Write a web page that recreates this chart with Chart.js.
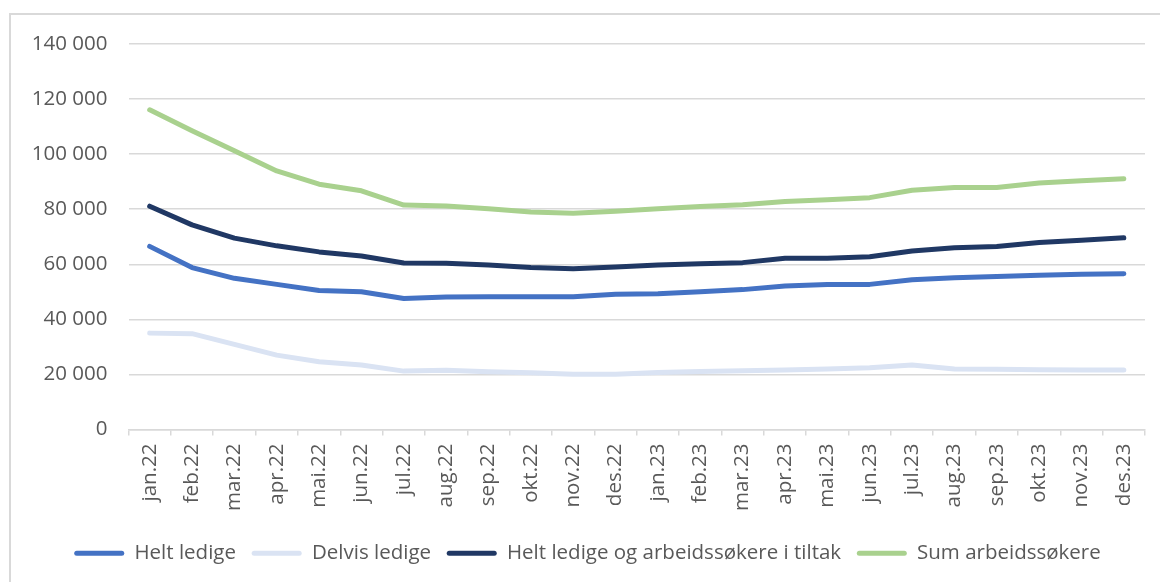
<!DOCTYPE html>
<html>
<head>
<meta charset="utf-8">
<script src="https://cdn.jsdelivr.net/npm/chart.js@4.4.1/dist/chart.umd.min.js"></script>
<style>
  html, body { margin: 0; padding: 0; background: #fff; overflow: hidden; }
  #wrap { position: relative; width: 1160px; height: 582px; }
  #frame { position: absolute; left: 9px; top: 13px; width: 2000px; height: 2000px;
           border-top: 2px solid #d9d9d9; border-left: 2px solid #d9d9d9; }
  canvas { position: absolute; left: 0; top: 0; }
</style>
</head>
<body>
<div id="wrap">
  <div id="frame"></div>
  <canvas id="myChart" width="1160" height="582"></canvas>
</div>
<script>
var months = ["jan.22", "feb.22", "mar.22", "apr.22", "mai.22", "jun.22", "jul.22", "aug.22",
  "sep.22", "okt.22", "nov.22", "des.22", "jan.23", "feb.23", "mar.23", "apr.23", "mai.23",
  "jun.23", "jul.23", "aug.23", "sep.23", "okt.23", "nov.23", "des.23"];

var heltLedige = [66500, 58800, 54900, 52700, 50500, 50000, 47600, 48100, 48200, 48200, 48200, 49100,
  49300, 50000, 50800, 52100, 52700, 52700, 54400, 55100, 55600, 56000, 56400, 56600];
var delvisLedige = [35000, 34800, 30900, 27000, 24600, 23400, 21200, 21500, 21000, 20600, 20100, 20100,
  20700, 21100, 21300, 21600, 22000, 22400, 23400, 22000, 21900, 21700, 21600, 21600];
var heltOgTiltak = [81100, 74300, 69500, 66700, 64500, 63000, 60500, 60400, 59700, 58800, 58400, 59000,
  59700, 60200, 60600, 62200, 62200, 62700, 64800, 66000, 66500, 67900, 68700, 69600];
var sumArbeidssokere = [116100, 108500, 101200, 93900, 89100, 86700, 81500, 81200, 80200, 79000, 78500, 79300,
  80200, 81000, 81600, 82800, 83400, 84200, 86900, 87900, 87900, 89500, 90300, 91100];

var seriesNames = ["Helt ledige", "Delvis ledige", "Helt ledige og arbeidssøkere i tiltak", "Sum arbeidssøkere"];
var seriesColors = ["#4472c4", "#dae3f3", "#203864", "#a9d18e"];

var textColor = "#595959";
var gridColor = "#d9d9d9";

Chart.defaults.font.family = "'Open Sans', sans-serif";
Chart.defaults.font.size = 20.5;
Chart.defaults.color = textColor;

function makeLine(i, values) {
  return {
    label: seriesNames[i],
    data: values,
    borderColor: seriesColors[i],
    backgroundColor: seriesColors[i],
    borderWidth: 5,
    borderCapStyle: "round",
    borderJoinStyle: "round",
    pointRadius: 0,
    tension: 0,
    fill: false
  };
}

function spaced(v) {
  return String(v).replace(/\B(?=(\d{3})+(?!\d))/g, " ");
}

var config = {
  type: "line",
  data: {
    labels: months,
    datasets: [
      makeLine(0, heltLedige),
      makeLine(1, delvisLedige),
      makeLine(2, heltOgTiltak),
      makeLine(3, sumArbeidssokere)
    ]
  },
  options: {
    responsive: false,
    animation: false,
    layout: { padding: { left: 30, right: 15, top: 44, bottom: 8.5 } },
    scales: {
      x: {
        offset: true,
        grid: { offset: true, drawOnChartArea: false, drawTicks: true, tickLength: 6, color: gridColor, lineWidth: 1.5 },
        border: { color: gridColor, width: 1.5 },
        ticks: { autoSkip: false, maxRotation: 90, minRotation: 90, padding: 8, color: textColor },
        afterFit: function(scale) { scale.height = 97.8; }
      },
      y: {
        min: 0,
        max: 140000,
        grid: { color: gridColor, lineWidth: 1.5, drawTicks: false },
        border: { display: false },
        ticks: { stepSize: 20000, padding: 21, color: textColor, callback: function(v) { return spaced(v); } },
        afterFit: function(scale) { scale.width = 98.5; }
      }
    },
    plugins: {
      tooltip: { enabled: false },
      legend: {
        position: "bottom",
        labels: {
          boxWidth: 50,
          boxHeight: 5,
          padding: 15.7,
          useBorderRadius: true,
          borderRadius: 2.5,
          color: textColor,
          generateLabels: function(chart) {
            return Chart.defaults.plugins.legend.labels.generateLabels(chart).map(function(item) {
              item.lineWidth = 0;
              return item;
            });
          }
        }
      }
    }
  }
};

var myChart = new Chart(document.getElementById("myChart").getContext("2d"), config);
</script>
</body>
</html>
